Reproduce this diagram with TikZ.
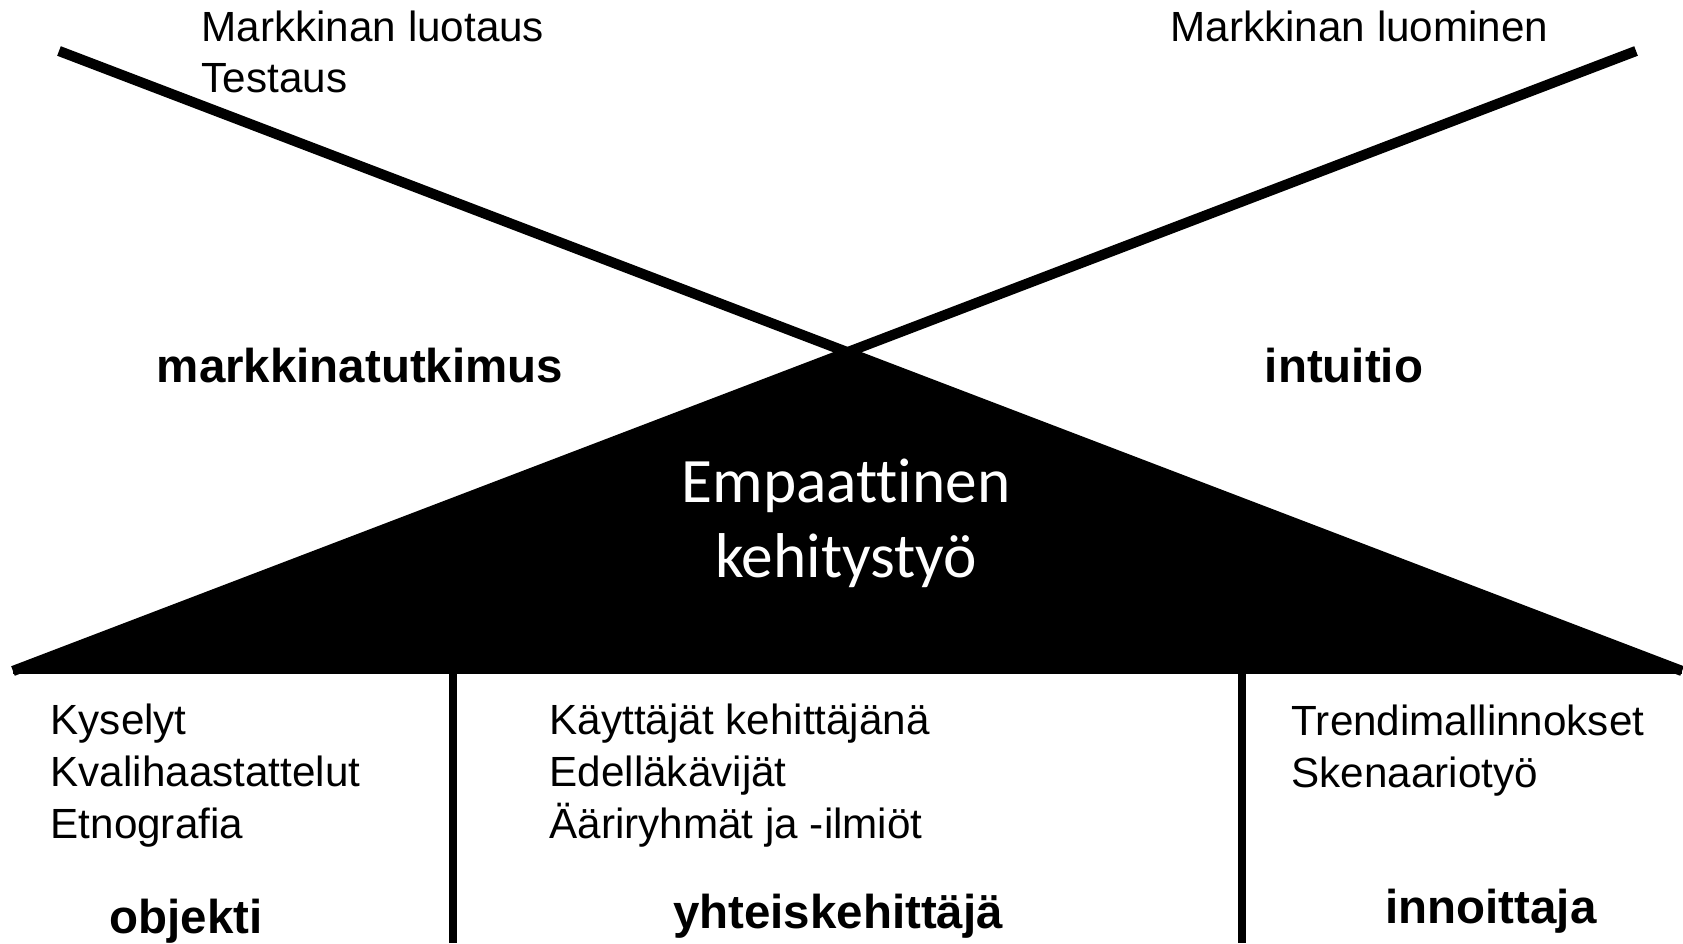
\documentclass[tikz,border=0pt]{standalone}
\usepackage{fontspec}
\setmainfont{Liberation Sans}
\newfontfamily\corefont{Carlito}[Ligatures=NoCommon]

\tikzset{
  xline/.style={line width=2.9pt},
  wall/.style={line width=2.5pt},
  itemtext/.style={font=\fontsize{12}{14.7}\selectfont, align=left, inner sep=0pt, anchor=base west},
  roletext/.style={font=\fontsize{13.5}{16}\selectfont\bfseries, inner sep=0pt, anchor=base},
}

\begin{document}
\begin{tikzpicture}[x=0.01cm, y=-0.01cm]
  \useasboundingbox (0,0) rectangle (1683,943);
  % the X and the roof
  \coordinate (ltop) at (59,51);
  \coordinate (rtop) at (1636,51);
  \coordinate (apex) at (846,352);
  \coordinate (lefttip) at (13,671);
  \coordinate (righttip) at (1682,671);
  \fill (apex) -- (righttip) -- (lefttip) -- cycle;
  \draw[xline] (ltop) -- (righttip);
  \draw[xline] (rtop) -- (lefttip);
  \draw[line width=1.8pt] (lefttip) -- (righttip);
  % walls
  \coordinate (wall1) at (453,671);
  \coordinate (wall2) at (1242,671);
  \draw[wall] (wall1) -- (453,943);
  \draw[wall] (wall2) -- (1242,943);

  % base anchor sits on the last line
  \node[itemtext] (luotaus) at (201,93) {Markkinan luotaus\\Testaus};
  \node[itemtext] (luominen) at (1170,42) {Markkinan luominen};
  \node[roletext] (tutkimus) at (360,382) {markkinatutkimus};
  \node[roletext] (intuitio) at (1344,382) {intuitio};
  \node[font=\corefont\fontsize{18}{21.3}\selectfont, text=white, align=center, inner sep=0pt, anchor=base] (core) at (846,577) {Empaattinen\\kehitystyö};

  \node[itemtext] (kyselyt) at (50,838) {Kyselyt\\Kvalihaastattelut\\Etnografia};
  \node[itemtext] (kayttajat) at (549,838) {Käyttäjät kehittäjänä\\Edelläkävijät\\Ääriryhmät ja -ilmiöt};
  \node[itemtext] (trendit) at (1291,787) {Trendimallinnokset\\Skenaariotyö};
  \node[roletext] (objekti) at (186,933) {objekti};
  \node[roletext] (yhteis) at (838,928) {yhteiskehittäjä};
  \node[roletext] (innoittaja) at (1491,923) {innoittaja};
\end{tikzpicture}
\end{document}
